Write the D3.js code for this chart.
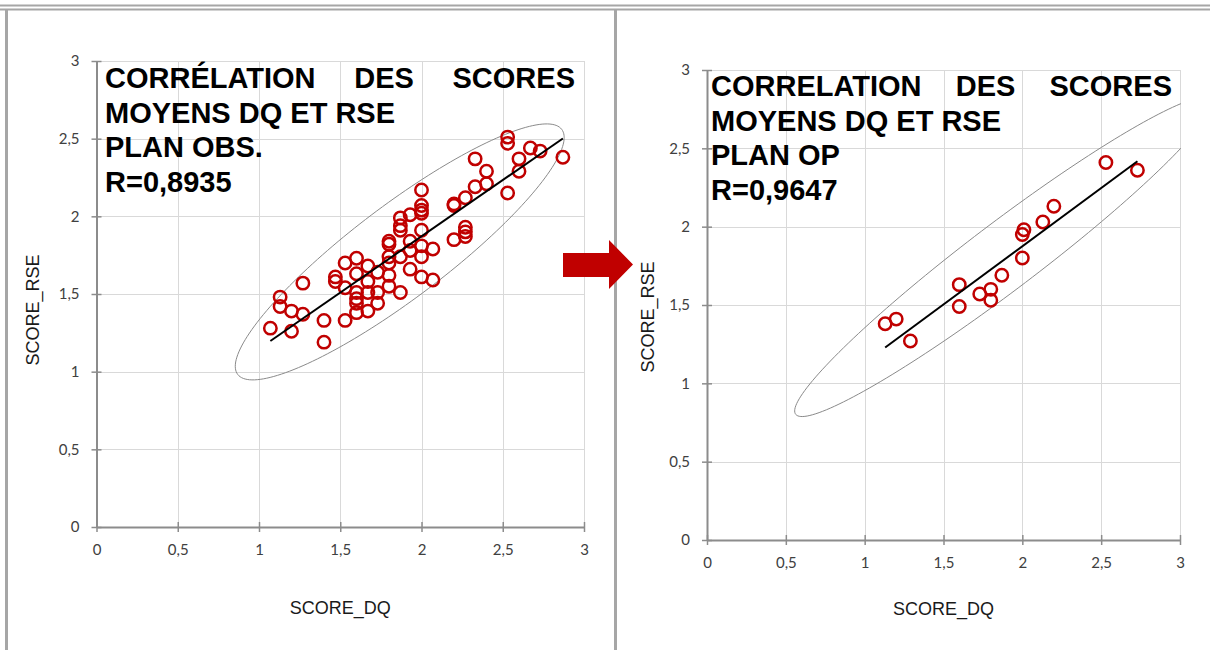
<!DOCTYPE html>
<html>
<head>
<meta charset="utf-8">
<script src="https://cdn.jsdelivr.net/npm/d3@7/dist/d3.min.js"></script>
<style>
  html, body { margin: 0; padding: 0; background: #ffffff; }
  svg { display: block; }
</style>
</head>
<body>
<svg id="chart" width="1210" height="650"></svg>
<script>
// Axis ticks shared by both panels
const xTicks = [0, 0.5, 1, 1.5, 2, 2.5, 3];
const yTicks = [0, 0.5, 1, 1.5, 2, 2.5, 3];

// Panel 1: plan OBS.
const dqObs = [2.53, 2.53, 2.67, 2.73, 2.87, 2.60, 2.60, 2.33, 2.40, 2.40,
               2.33, 2.53, 2.27, 2.20, 2.20, 2.00, 2.00, 2.00, 2.00, 1.93,
               1.87, 1.87, 1.87, 2.00, 2.27, 2.27, 2.27, 2.20, 1.80, 1.80,
               1.93, 1.93, 2.00, 2.00, 2.07, 1.80, 1.80, 1.87, 1.93, 2.00,
               2.07, 1.80, 1.80, 1.73, 1.73, 1.73, 1.87, 1.67, 1.67, 1.67,
               1.67, 1.60, 1.60, 1.60, 1.60, 1.60, 1.60, 1.53, 1.53, 1.53,
               1.47, 1.47, 1.40, 1.40, 1.27, 1.27, 1.20, 1.20, 1.13, 1.13,
               1.07];
const rseObs = [2.51, 2.47, 2.44, 2.42, 2.38, 2.37, 2.29, 2.37, 2.29, 2.21,
                2.19, 2.15, 2.12, 2.08, 2.07, 2.17, 2.07, 2.04, 2.02, 2.01,
                1.99, 1.94, 1.91, 1.91, 1.93, 1.90, 1.87, 1.85, 1.84, 1.82,
                1.84, 1.78, 1.81, 1.74, 1.79, 1.74, 1.70, 1.74, 1.66, 1.61,
                1.59, 1.62, 1.55, 1.64, 1.51, 1.44, 1.51, 1.68, 1.58, 1.51,
                1.39, 1.73, 1.63, 1.51, 1.47, 1.44, 1.38, 1.70, 1.54, 1.33,
                1.61, 1.58, 1.33, 1.19, 1.57, 1.37, 1.39, 1.26, 1.48, 1.42,
                1.28];

// Panel 2: plan OP
const dqOp  = [1.13, 1.20, 1.29, 1.60, 1.60, 1.73, 1.80, 1.80,
               1.87, 2.00, 2.00, 2.01, 2.13, 2.20, 2.53, 2.73];
const rseOp = [1.38, 1.41, 1.27, 1.63, 1.49, 1.57, 1.60, 1.53,
               1.69, 1.80, 1.95, 1.98, 2.03, 2.13, 2.41, 2.36];

// Title lines and correlation coefficients
const titleObs = ["CORRÉLATION DES SCORES", "MOYENS DQ ET RSE", "PLAN OBS.", "R=0,8935"];
const titleOp  = ["CORRELATION DES SCORES", "MOYENS DQ ET RSE", "PLAN OP", "R=0,9647"];
const rObs = 0.8935;
const rOp  = 0.9647;

// Concentration ellipses: centre, half-extents along each axis
const ellObs = { cx: 1.866, cy: 1.771, ax: 1.012, ay: 0.824 };
const ellOp  = { cx: 1.881, cy: 1.808, ax: 1.325, ay: 1.020 };

const svg = d3.select("#chart");
const RED = "#c00000";
const fmt = d => String(d).replace(".", ",");

// Table-like frame around the two panels
const frame = svg.append("g").attr("stroke", "#a6a6a6").attr("fill", "none");
frame.append("line").attr("x1", 0).attr("x2", 1210).attr("y1", 5.5).attr("y2", 5.5).attr("stroke-width", 2);
frame.append("line").attr("x1", 0).attr("x2", 1210).attr("y1", 9.5).attr("y2", 9.5).attr("stroke-width", 2);
frame.append("line").attr("x1", 6.5).attr("x2", 6.5).attr("y1", 9).attr("y2", 650).attr("stroke-width", 3);
frame.append("line").attr("x1", 615.5).attr("x2", 615.5).attr("y1", 9).attr("y2", 650).attr("stroke-width", 3);

function panel(cfg) {
  const g = svg.append("g");
  const x = d3.scaleLinear().domain([0, 3]).range([cfg.left, cfg.right]);
  const y = d3.scaleLinear().domain([0, 3]).range([cfg.bottom, cfg.top]);
  const clipId = "clip" + cfg.id;

  g.append("clipPath").attr("id", clipId)
    .append("rect")
    .attr("x", cfg.left).attr("y", cfg.top)
    .attr("width", cfg.right - cfg.left + 1).attr("height", cfg.bottom - cfg.top);

  // gridlines
  const grid = g.append("g").attr("stroke", "#d9d9d9").attr("stroke-width", 1);
  grid.selectAll(".gx").data(xTicks.slice(1)).join("line")
    .attr("x1", d => Math.round(x(d)) + 0.5).attr("x2", d => Math.round(x(d)) + 0.5)
    .attr("y1", cfg.top).attr("y2", cfg.bottom);
  grid.selectAll(".gy").data(yTicks.slice(1)).join("line")
    .attr("y1", d => Math.round(y(d)) + 0.5).attr("y2", d => Math.round(y(d)) + 0.5)
    .attr("x1", cfg.left).attr("x2", cfg.right);

  // axes with crossing tick marks
  const xAxis = d3.axisBottom(x).tickValues(xTicks).tickFormat(fmt).tickSizeInner(5).tickSizeOuter(0).tickPadding(12);
  const yAxis = d3.axisLeft(y).tickValues(yTicks).tickFormat(fmt).tickSizeInner(5).tickSizeOuter(0).tickPadding(12);

  const gx = g.append("g").attr("transform", `translate(0,${cfg.bottom})`).call(xAxis);
  const gy = g.append("g").attr("transform", `translate(${cfg.left},0)`).call(yAxis);
  [gx, gy].forEach(ax => {
    ax.select(".domain").attr("stroke", "#8c8c8c").attr("stroke-width", 2);
    ax.selectAll(".tick line").attr("stroke", "#8c8c8c").attr("stroke-width", 1.5);
    ax.selectAll(".tick text").attr("fill", "#404040")
      .attr("font-family", "Lato, 'Liberation Sans', sans-serif").attr("font-size", 15);
  });
  gx.selectAll(".tick line").attr("y1", -5).attr("y2", 5);
  gy.selectAll(".tick line").attr("x1", -5).attr("x2", 5);

  // title block
  const tx0 = cfg.titleX0, tx1 = cfg.titleX1;
  const title = g.append("g").attr("font-family", "'Liberation Sans', Arial, sans-serif")
    .attr("font-weight", "bold").attr("font-size", 29).attr("fill", "#000");
  const lines = cfg.title;
  // first line justified across the block
  const words = lines[0].split(" ");
  const wNodes = words.map(w => title.append("text").attr("y", cfg.titleY).text(w));
  const widths = wNodes.map(n => n.node().getComputedTextLength());
  const gap = (tx1 - tx0 - d3.sum(widths)) / (words.length - 1);
  let cur = tx0;
  wNodes.forEach((n, i) => { n.attr("x", cur); cur += widths[i] + gap; });
  lines.slice(1).forEach((t, i) => {
    title.append("text").attr("x", tx0).attr("y", cfg.titleY + (i + 1) * 34.5).text(t);
  });

  // axis titles
  g.append("text").attr("x", (cfg.left + cfg.right) / 2).attr("y", cfg.xTitleY)
    .attr("text-anchor", "middle").attr("font-family", "'Liberation Sans', Arial, sans-serif")
    .attr("font-size", 18).attr("fill", "#1a1a1a").text("SCORE_DQ");
  g.append("text").attr("transform", `translate(${cfg.yTitleX},${(cfg.top + cfg.bottom) / 2 + cfg.yTitleDy}) rotate(-90)`)
    .attr("text-anchor", "middle").attr("font-family", "'Liberation Sans', Arial, sans-serif")
    .attr("font-size", 18).attr("fill", "#1a1a1a").text("SCORE_RSE");

  const plot = g.append("g").attr("clip-path", `url(#${clipId})`);

  // concentration ellipse
  const e = cfg.ell, r = cfg.r, s = Math.sqrt(1 - r * r);
  const ts = d3.range(0, 361, 2).map(a => a * Math.PI / 180);
  plot.append("path")
    .datum(ts)
    .attr("d", d3.line()
      .x(t => x(e.cx + e.ax * Math.cos(t)))
      .y(t => y(e.cy + e.ay * (r * Math.cos(t) + s * Math.sin(t))))
      .curve(d3.curveCardinalClosed))
    .attr("fill", "none").attr("stroke", "#8a8a8a").attr("stroke-width", 1);

  // points
  const pts = cfg.xs.map((v, i) => ({ x: v, y: cfg.ys[i] }));
  plot.selectAll("circle").data(pts).join("circle")
    .attr("cx", d => x(d.x)).attr("cy", d => y(d.y)).attr("r", 6.2)
    .attr("fill", "none").attr("stroke", RED).attr("stroke-width", 2.5);

  // least-squares trend line
  const mx = d3.mean(cfg.xs), my = d3.mean(cfg.ys);
  const sxy = d3.sum(cfg.xs, (v, i) => (v - mx) * (cfg.ys[i] - my));
  const sxx = d3.sum(cfg.xs, v => (v - mx) * (v - mx));
  const b = sxy / sxx, a = my - b * mx;
  const [xmin, xmax] = d3.extent(cfg.xs);
  plot.append("line")
    .attr("x1", x(xmin)).attr("y1", y(a + b * xmin))
    .attr("x2", x(xmax)).attr("y2", y(a + b * xmax))
    .attr("stroke", "#000").attr("stroke-width", 2);
}

panel({ id: 1, left: 96.5, right: 584, top: 61, bottom: 527,
        xs: dqObs, ys: rseObs, r: rObs, ell: ellObs, title: titleObs,
        titleX0: 105, titleX1: 575, titleY: 88,
        xTitleY: 614, yTitleX: 39, yTitleDy: 16 });
panel({ id: 2, left: 707, right: 1180, top: 70, bottom: 540,
        xs: dqOp, ys: rseOp, r: rOp, ell: ellOp, title: titleOp,
        titleX0: 711, titleX1: 1172, titleY: 96,
        xTitleY: 615, yTitleX: 654, yTitleDy: 12 });

// block arrow between the panels
const arrow = [[563, 253], [609, 253], [609, 240], [633, 264.5], [609, 289], [609, 277], [563, 277]];
svg.append("path").attr("d", d3.line()(arrow) + "Z").attr("fill", RED);
</script>
</body>
</html>
